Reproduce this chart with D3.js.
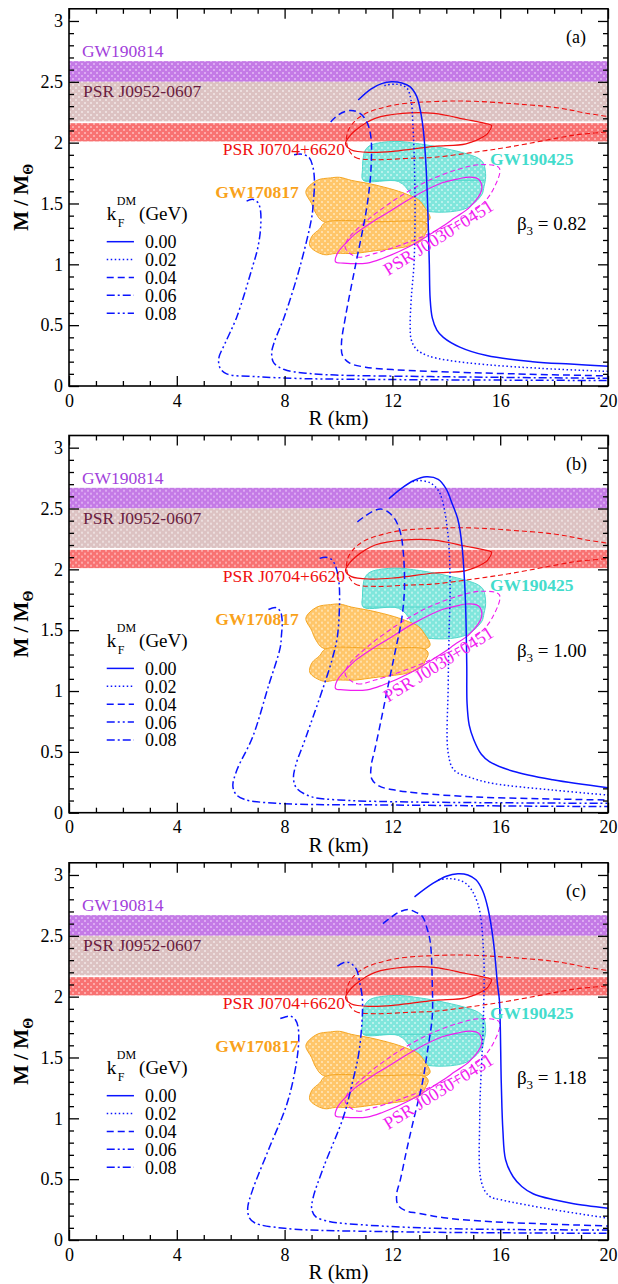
<!DOCTYPE html>
<html>
<head>
<meta charset="utf-8">
<script src="https://cdn.jsdelivr.net/npm/d3@7"></script>
<style>
  body { margin: 0; background: #fff; }
  svg text { font-family: "Liberation Serif", "DejaVu Serif", serif; }
</style>
</head>
<body>
<svg id="chart"></svg>
<script>
// ===================== DADOS =====================
const panelTags = ["(a)", "(b)", "(c)"];
const beta3 = ["0.82", "1.00", "1.18"];
const kfLabels = ["0.00", "0.02", "0.04", "0.06", "0.08"];

// faixas horizontais (massa)
const bandNames = ["GW190814", "PSR J0952-0607", "PSR J0704+6620"];
const bandLow = [2.50, 2.175, 2.01];
const bandHigh = [2.67, 2.50, 2.16];

// curvas M-R, [R km, M/Msun], uma lista por kF
const curvesA = [
  [[10.73,2.35],[11.2,2.44],[11.6,2.485],[11.97,2.50],[12.35,2.49],[12.65,2.46],[12.9,2.38],[13.05,2.25],[13.15,2.10],[13.25,1.80],[13.32,1.40],[13.37,1.00],[13.40,0.72],[13.48,0.56],[13.65,0.46],[13.89,0.40],[14.5,0.32],[15.5,0.25],[17.2,0.20],[18.6,0.18],[20,0.163]],
  [[11.7,2.47],[12.16,2.48],[12.53,2.45],[12.69,2.35],[12.76,2.15],[12.82,1.80],[12.84,1.40],[12.8,1.00],[12.7,0.72],[12.66,0.50],[12.7,0.38],[12.9,0.30],[13.3,0.25],[14.1,0.21],[15.5,0.175],[17.5,0.145],[20,0.12]],
  [[9.71,2.17],[10.0,2.23],[10.45,2.265],[10.8,2.24],[11.05,2.17],[11.2,2.05],[11.21,1.80],[11.12,1.58],[10.99,1.39],[10.62,0.98],[10.26,0.57],[10.11,0.35],[10.15,0.25],[10.4,0.19],[11.0,0.155],[12.0,0.135],[13.5,0.12],[16.5,0.10],[20,0.083]],
  [[8.35,1.90],[8.64,1.905],[8.9,1.88],[9.05,1.80],[9.11,1.67],[9.06,1.50],[9.01,1.39],[8.57,0.98],[7.99,0.57],[7.6,0.35],[7.52,0.27],[7.6,0.19],[7.99,0.135],[8.8,0.105],[9.89,0.09],[13.55,0.077],[20,0.063]],
  [[6.59,1.52],[6.81,1.535],[7.0,1.51],[7.1,1.45],[7.11,1.30],[7.0,1.13],[6.81,0.98],[6.23,0.57],[5.79,0.35],[5.56,0.23],[5.6,0.15],[5.85,0.10],[6.96,0.077],[8.5,0.062],[10.62,0.055],[20,0.045]]
];
const curvesB = [
  [[11.87,2.58],[12.3,2.66],[12.8,2.73],[13.26,2.76],[13.7,2.74],[14.0,2.66],[14.2,2.55],[14.43,2.41],[14.58,2.20],[14.7,1.80],[14.73,1.59],[14.76,1.20],[14.77,0.90],[14.85,0.72],[15.02,0.60],[15.3,0.48],[15.6,0.42],[16.48,0.34],[17.95,0.27],[20,0.205]],
  [[12.75,2.72],[12.97,2.73],[13.41,2.71],[13.7,2.65],[13.85,2.57],[14.07,2.27],[14.14,1.86],[14.1,1.45],[14.07,1.04],[14.07,0.49],[14.29,0.35],[15.02,0.28],[15.75,0.24],[17.95,0.186],[20,0.145]],
  [[10.7,2.39],[11.0,2.44],[11.3,2.48],[11.58,2.495],[11.85,2.47],[12.1,2.41],[12.3,2.30],[12.4,2.15],[12.45,1.86],[12.35,1.60],[12.09,1.31],[11.8,1.00],[11.58,0.76],[11.35,0.52],[11.21,0.38],[11.23,0.28],[11.5,0.22],[12.09,0.186],[13.0,0.16],[15.02,0.13],[17.5,0.115],[20,0.104]],
  [[9.3,2.09],[9.52,2.10],[9.75,2.08],[9.9,2.02],[10.0,1.92],[10.04,1.80],[9.96,1.45],[9.75,1.25],[9.45,1.04],[8.79,0.62],[8.4,0.38],[8.33,0.28],[8.45,0.20],[9.01,0.13],[10.0,0.105],[12.09,0.09],[20,0.077]],
  [[7.4,1.67],[7.69,1.685],[7.85,1.65],[7.91,1.58],[7.88,1.45],[7.84,1.36],[7.4,1.04],[6.81,0.62],[6.23,0.35],[6.08,0.22],[6.2,0.15],[6.5,0.11],[7.69,0.077],[12.09,0.063],[20,0.05]]
];
const curvesC = [
  [[12.82,2.82],[13.5,2.93],[14.0,2.99],[14.43,3.01],[14.8,3.0],[15.1,2.96],[15.35,2.87],[15.55,2.72],[15.75,2.45],[15.9,2.10],[15.97,1.97],[16.04,1.29],[16.1,0.90],[16.2,0.66],[16.48,0.52],[16.8,0.44],[17.22,0.38],[18.0,0.33],[18.68,0.30],[20,0.26]],
  [[13.7,2.96],[14.14,2.97],[14.73,2.93],[15.16,2.77],[15.38,2.38],[15.38,1.84],[15.24,1.01],[15.31,0.47],[15.6,0.36],[16.04,0.33],[17.95,0.25],[20,0.18]],
  [[11.65,2.60],[12.0,2.66],[12.3,2.70],[12.6,2.715],[12.9,2.69],[13.11,2.66],[13.3,2.55],[13.41,2.44],[13.48,2.10],[13.48,1.84],[13.3,1.55],[13.11,1.29],[12.8,1.00],[12.53,0.74],[12.3,0.50],[12.16,0.38],[12.2,0.29],[12.5,0.24],[12.97,0.22],[14.0,0.18],[15.75,0.15],[20,0.115]],
  [[9.96,2.25],[10.2,2.28],[10.4,2.28],[10.65,2.23],[10.8,2.10],[10.89,1.97],[10.77,1.56],[10.5,1.28],[10.18,1.01],[9.45,0.60],[9.05,0.34],[9.01,0.25],[9.16,0.19],[9.6,0.155],[10.18,0.137],[13.55,0.096],[20,0.082]],
  [[7.84,1.82],[8.05,1.835],[8.21,1.84],[8.4,1.81],[8.5,1.75],[8.5,1.56],[8.13,1.15],[7.4,0.74],[6.81,0.41],[6.63,0.26],[6.7,0.18],[6.9,0.14],[7.99,0.096],[12.09,0.068],[20,0.055]]
];

// contornos observacionais (iguais nos três painéis)
const gw170817Upper = [[8.79,1.60],[9.2,1.69],[9.7,1.71],[10.04,1.715],[10.48,1.69],[11.2,1.66],[12.09,1.61],[12.6,1.57],[12.97,1.53],[13.19,1.47],[13.4,1.38],[13.26,1.35],[11.5,1.35],[9.45,1.35],[9.16,1.42],[9.0,1.50]];
const gw170817Lower = [[9.52,1.345],[11.5,1.35],[13.19,1.345],[13.33,1.31],[13.2,1.24],[13.11,1.20],[12.6,1.15],[12.09,1.13],[11.3,1.11],[10.62,1.09],[9.9,1.09],[9.45,1.08],[8.94,1.15],[9.01,1.23],[9.30,1.29]];
const gw190425 = [[10.92,1.88],[11.0,1.94],[11.2,1.98],[12.09,2.01],[13.0,1.99],[13.55,1.97],[14.2,1.94],[14.73,1.91],[15.2,1.87],[15.38,1.83],[15.46,1.72],[15.4,1.64],[15.31,1.57],[14.73,1.46],[13.55,1.43],[12.82,1.47],[12.67,1.58],[12.23,1.68],[10.92,1.69],[10.89,1.78]];
const j0740Solid = [[10.26,1.99],[10.4,2.05],[10.62,2.10],[11.0,2.16],[11.36,2.20],[12.38,2.24],[13.55,2.24],[14.73,2.19],[15.4,2.16],[15.68,2.14],[15.55,2.08],[15.46,2.06],[14.73,1.99],[13.55,1.97],[12.09,1.93],[11.2,1.92],[10.48,1.94]];
const j0740Dashed = [[10.33,1.97],[10.62,1.88],[11.36,1.86],[12.5,1.87],[13.55,1.88],[15.0,1.92],[16.48,1.97],[18.68,2.06],[20.4,2.12],[20.4,2.18],[19.12,2.245],[18.0,2.29],[16.48,2.32],[15.0,2.34],[13.85,2.34],[12.09,2.31],[10.92,2.23],[10.5,2.15],[10.33,2.08]];
const j0030Solid = [[9.89,1.02],[9.96,1.09],[10.3,1.18],[10.62,1.25],[11.2,1.34],[11.79,1.42],[12.82,1.56],[13.85,1.67],[14.4,1.70],[14.73,1.715],[15.1,1.71],[15.24,1.69],[15.31,1.61],[14.87,1.47],[14.3,1.38],[13.85,1.31],[12.67,1.15],[11.65,1.05],[11.06,1.01],[10.18,1.01]];
const j0030Dashed = [[10.26,1.13],[10.7,1.06],[11.36,1.09],[12.82,1.20],[13.55,1.27],[14.29,1.34],[15.31,1.49],[15.75,1.62],[15.97,1.79],[15.31,1.82],[14.43,1.78],[13.26,1.68],[12.09,1.53],[11.06,1.36],[10.33,1.20]];

// ===================== CONFIG =====================
const width = 618;
const height = 1284;
const serif = "'Liberation Serif', 'DejaVu Serif', serif";
const panelOffsets = [0, 426.7, 854];
const dashA = [null, "1.5,2.5", "7,4", "8,3,2,3", "8,3,2,3,2,3"];
const dashBC = [null, "1.5,2.5", "7,4", "8,3,2,3,2,3", "8,3,2,3"];
const blue = "#0a14ff";

const svg = d3.select("#chart")
  .attr("width", width).attr("height", height)
  .attr("font-family", serif);
const defs = svg.append("defs");

function makePattern(id, base, dot) {
  const p = defs.append("pattern").attr("id", id)
    .attr("width", 6).attr("height", 6).attr("patternUnits", "userSpaceOnUse");
  p.append("rect").attr("width", 6).attr("height", 6).attr("fill", base);
  p.append("rect").attr("x", 0).attr("y", 0).attr("width", 2).attr("height", 2).attr("fill", dot);
  p.append("rect").attr("x", 3).attr("y", 3).attr("width", 2).attr("height", 2).attr("fill", dot);
}
makePattern("patPurple", "#c47ae6", "#dcaaf2");
makePattern("patPink", "#dcc2c2", "#ecdede");
makePattern("patRed", "#f87272", "#fcaaaa");
makePattern("patTeal", "#80e6dc", "#b8f2ec");
makePattern("patOrange", "#ffc66a", "#ffe0a8");
const bandFills = ["url(#patPurple)", "url(#patPink)", "url(#patRed)"];

const x = d3.scaleLinear().domain([0, 20]).range([69, 608]);
const y = d3.scaleLinear().domain([0, 3.1]).range([386, 8.8]);

defs.append("clipPath").attr("id", "plotClip")
  .append("rect")
  .attr("x", x(0)).attr("y", y(3.1))
  .attr("width", x(20) - x(0)).attr("height", y(0) - y(3.1));

const line = d3.line().x(d => x(d[0])).y(d => y(d[1])).curve(d3.curveCatmullRom.alpha(0.5));
const closed = d3.line().x(d => x(d[0])).y(d => y(d[1])).curve(d3.curveCatmullRomClosed.alpha(0.5));

const curveSets = [curvesA, curvesB, curvesC];

panelTags.forEach((tag, i) => drawPanel(i));

// ===================== PAINEL =====================
function drawPanel(i) {
  const g = svg.append("g").attr("transform", `translate(0,${panelOffsets[i]})`);
  const dashes = i === 0 ? dashA : dashBC;
  const plot = g.append("g").attr("clip-path", "url(#plotClip)");

  // faixas
  bandNames.forEach((name, k) => {
    plot.append("rect")
      .attr("x", x(0)).attr("width", x(20) - x(0))
      .attr("y", y(bandHigh[k])).attr("height", y(bandLow[k]) - y(bandHigh[k]))
      .attr("fill", bandFills[k]);
  });

  // blobs preenchidos
  plot.append("path").attr("d", closed(gw190425))
    .attr("fill", "url(#patTeal)").attr("stroke", "#52d8cc").attr("stroke-width", 1);
  plot.append("line")
    .attr("x1", x(10.92)).attr("x2", x(15.4))
    .attr("y1", y(1.69)).attr("y2", y(1.69))
    .attr("stroke", "#52d8cc").attr("stroke-width", 1);
  [gw170817Upper, gw170817Lower].forEach(pts => {
    plot.append("path").attr("d", closed(pts))
      .attr("fill", "url(#patOrange)").attr("stroke", "#f5a623").attr("stroke-width", 1);
  });

  // contornos de pulsares
  plot.append("path").attr("d", closed(j0740Solid))
    .attr("fill", "none").attr("stroke", "#f01010").attr("stroke-width", 1.2);
  plot.append("path").attr("d", closed(j0740Dashed))
    .attr("fill", "none").attr("stroke", "#f01010").attr("stroke-width", 1.1)
    .attr("stroke-dasharray", "5,3");
  plot.append("path").attr("d", closed(j0030Solid))
    .attr("fill", "none").attr("stroke", "#f01cf0").attr("stroke-width", 1.2);
  plot.append("path").attr("d", closed(j0030Dashed))
    .attr("fill", "none").attr("stroke", "#f01cf0").attr("stroke-width", 1.1)
    .attr("stroke-dasharray", "5,3");

  // curvas M-R
  curveSets[i].forEach((pts, k) => {
    plot.append("path").attr("d", line(pts))
      .attr("fill", "none").attr("stroke", blue).attr("stroke-width", 1.5)
      .attr("stroke-dasharray", dashes[k]);
  });

  // ===== eixos =====
  const font = sel => {
    sel.attr("font-family", serif);
    sel.selectAll("text")
      .attr("font-family", serif).attr("font-size", 18).attr("fill", "#000");
  };
  const clean = sel => { sel.select(".domain").remove(); sel.selectAll("line").attr("stroke", "#000").attr("stroke-width", 1.3); };

  const xMajor = d3.range(0, 21, 4);
  const xMinor = d3.range(0, 21, 1).filter(v => v % 4 !== 0);
  const yMajor = d3.range(0, 3.01, 0.5);
  const yMinor = d3.range(0, 31, 1).map(v => v / 10).filter(v => Math.round(v * 10) % 5 !== 0);

  g.append("g").attr("transform", `translate(0,${y(0)})`)
    .call(d3.axisBottom(x).tickValues(xMajor).tickSize(-10).tickPadding(8).tickFormat(d3.format("d")))
    .call(clean).call(font);
  g.append("g").attr("transform", `translate(0,${y(0)})`)
    .call(d3.axisBottom(x).tickValues(xMinor).tickSize(-5).tickFormat(""))
    .call(clean);
  g.append("g").attr("transform", `translate(0,${y(3.1)})`)
    .call(d3.axisTop(x).tickValues(xMajor).tickSize(-10).tickFormat(""))
    .call(clean);
  g.append("g").attr("transform", `translate(0,${y(3.1)})`)
    .call(d3.axisTop(x).tickValues(xMinor).tickSize(-5).tickFormat(""))
    .call(clean);

  g.append("g").attr("transform", `translate(${x(0)},0)`)
    .call(d3.axisLeft(y).tickValues(yMajor).tickSize(-10).tickPadding(6).tickFormat(d => d3.format("")(d)))
    .call(clean).call(font);
  g.append("g").attr("transform", `translate(${x(0)},0)`)
    .call(d3.axisLeft(y).tickValues(yMinor).tickSize(-5).tickFormat(""))
    .call(clean);
  g.append("g").attr("transform", `translate(${x(20)},0)`)
    .call(d3.axisRight(y).tickValues(yMajor).tickSize(-10).tickFormat(""))
    .call(clean);
  g.append("g").attr("transform", `translate(${x(20)},0)`)
    .call(d3.axisRight(y).tickValues(yMinor).tickSize(-5).tickFormat(""))
    .call(clean);

  g.append("rect")
    .attr("x", x(0)).attr("y", y(3.1))
    .attr("width", x(20) - x(0)).attr("height", y(0) - y(3.1))
    .attr("fill", "none").attr("stroke", "#000").attr("stroke-width", 1.6);

  // rótulos dos eixos
  g.append("text")
    .attr("x", x(10)).attr("y", y(0) + 39)
    .attr("text-anchor", "middle").attr("font-size", 21)
    .text("R (km)");

  const yl = g.append("text")
    .attr("transform", `translate(28,${(y(0) + y(3.1)) / 2}) rotate(-90)`)
    .attr("text-anchor", "middle").attr("font-size", 21).attr("font-weight", "bold");
  yl.append("tspan").text("M / M");
  yl.append("tspan").attr("font-size", 14).attr("dy", 5).text("\u0398");

  // ===== textos de anotação =====
  const label = (r, m, txt, color, opts = {}) =>
    g.append("text")
      .attr("x", x(r)).attr("y", y(m))
      .attr("fill", color)
      .attr("font-size", opts.size || 17.5)
      .attr("font-weight", opts.bold ? "bold" : null)
      .attr("text-anchor", opts.anchor || "start")
      .text(txt);

  label(0.48, 2.70, bandNames[0], "#a23fdb");
  label(0.52, 2.375, bandNames[1], "#6b1d40");
  label(10.24, 1.90, bandNames[2], "#f01010", { anchor: "end" });
  label(15.62, 1.82, "GW190425", "#44dccc", { bold: true });
  label(8.53, 1.545, "GW170817", "#f9a21b", { bold: true, anchor: "end" });
  label(18.44, 2.82, panelTags[i], "#000", { size: 18 });

  g.append("text")
    .attr("transform", `translate(${x(11.85)},${y(0.905)}) rotate(-32)`)
    .attr("fill", "#f01cf0").attr("font-size", 18)
    .text("PSR J0030+0451");

  const bt = g.append("text")
    .attr("x", x(16.62)).attr("y", y(1.28))
    .attr("font-size", 19).attr("fill", "#000");
  bt.append("tspan").text("\u03b2");
  bt.append("tspan").attr("font-size", 13).attr("dy", 5).text("3");
  bt.append("tspan").attr("dy", -5).text(" = " + beta3[i]);

  // ===== legenda =====
  const ky = y(1.364);
  g.append("text").attr("x", x(1.40)).attr("y", ky)
    .attr("font-size", 19).text("k");
  g.append("text").attr("x", x(1.40) + 11).attr("y", ky + 7)
    .attr("font-size", 12).text("F");
  g.append("text").attr("x", x(1.40) + 10).attr("y", ky - 15)
    .attr("font-size", 12).text("DM");
  g.append("text").attr("x", x(2.6)).attr("y", ky)
    .attr("font-size", 19).text("(GeV)");

  kfLabels.forEach((lab, k) => {
    const m = 1.186 - k * 0.147;
    g.append("line")
      .attr("x1", x(1.40)).attr("x2", x(2.41))
      .attr("y1", y(m)).attr("y2", y(m))
      .attr("stroke", blue).attr("stroke-width", 1.5)
      .attr("stroke-dasharray", dashes[k]);
    g.append("text")
      .attr("x", x(2.82)).attr("y", y(m) + 6.5)
      .attr("font-size", 18).text(lab);
  });
}
</script>
</body>
</html>
